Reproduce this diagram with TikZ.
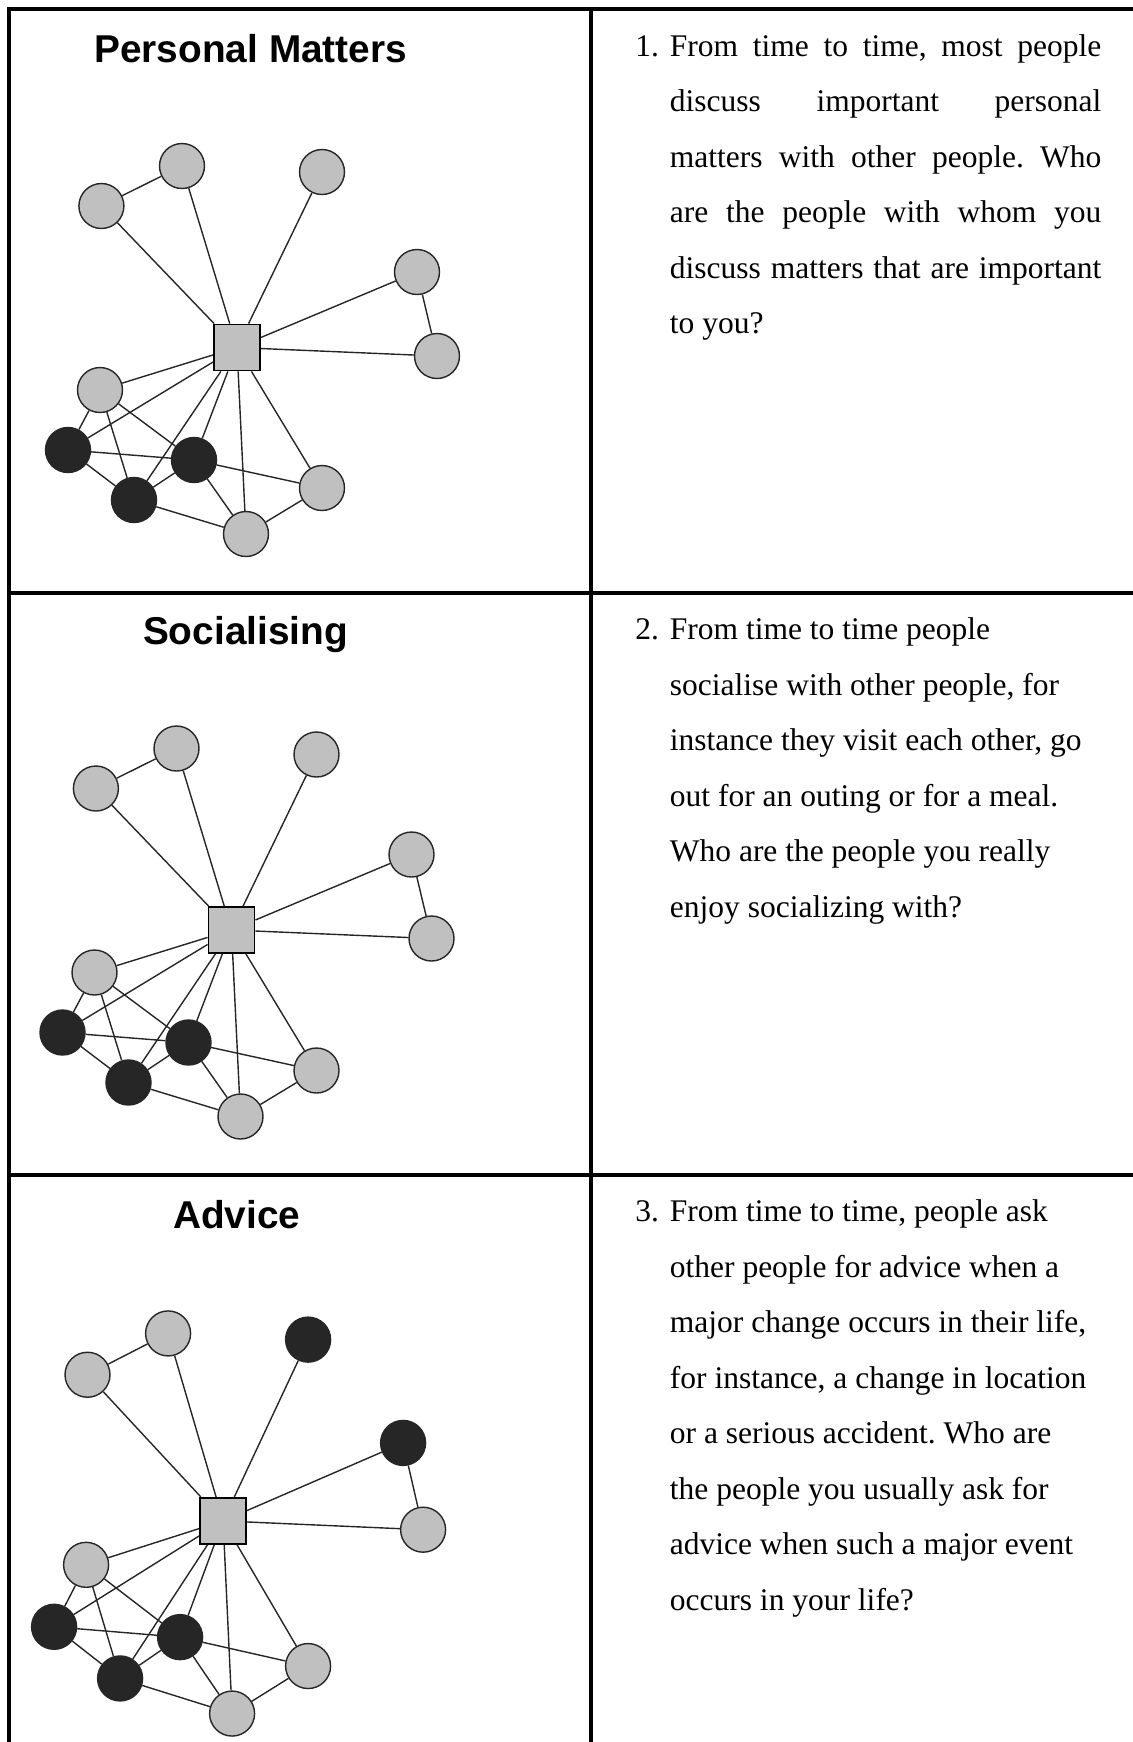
\documentclass[tikz,border=0pt]{standalone}
\usepackage{fontspec}
\setmainfont{Liberation Serif}
\newfontfamily\titlefont{Liberation Sans}
\frenchspacing
\definecolor{lightalter}{RGB}{192,192,192}
\definecolor{darkalter}{RGB}{38,38,38}
\tikzset{
  /tikz/.cd,
  alter/.style={circle,draw=black!85,line width=.7pt,fill=lightalter,minimum size=22.5pt,inner sep=0pt},
  kin/.style={alter,fill=darkalter},
  ego/.style={rectangle,draw=black,line width=.9pt,fill=lightalter,minimum size=23pt,inner sep=0pt},
  tie/.style={draw=black!85,line width=.7pt},
  title/.style={anchor=base,inner sep=0pt,font=\titlefont\bfseries\fontsize{19.4pt}{22pt}\selectfont}
}

% ego network, drawn around (0,0); #1 = name prefix, #2/#3 = styles of the two right-hand alters
\newcommand{\egonet}[3]{%
  \node[ego] (#1-ego) at (0,0) {};
  \node[alter] (#1-a) at (-135.6,-141.5) {};
  \node[alter] (#1-b) at (-55,-181.5) {};
  \node[#2] (#1-c) at (85,-175.5) {};
  \node[#3] (#1-d) at (180,-75.5) {};
  \node[alter] (#1-e) at (200,8.5) {};
  \node[alter] (#1-f) at (-137,42.5) {};
  \node[kin] (#1-g) at (-169,102.5) {};
  \node[kin] (#1-h) at (-43,112.5) {};
  \node[kin] (#1-i) at (-103,152.5) {};
  \node[alter] (#1-j) at (85,140.5) {};
  \node[alter] (#1-k) at (9,186.5) {};
  \foreach \u/\v in {a/b,a/ego,b/ego,c/ego,d/ego,d/e,e/ego,f/ego,g/ego,f/g,f/i,f/h,
                     g/h,g/i,i/ego,h/ego,h/i,h/j,h/k,i/k,k/ego,j/ego,k/j}
    \draw[tie] (#1-\u) -- (#1-\v);
}

\begin{document}
\begin{tikzpicture}[x=.5pt,y=-.5pt,
    frame/.style={line width=2pt},
    qline/.style={anchor=base west,inner sep=0pt,font=\fontsize{15.75pt}{18pt}\selectfont}]
  \useasboundingbox (0,0) rectangle (1132,1742);

  % table
  \draw[frame] (9,1760) -- (9,9) -- (1150,9);
  \draw[frame] (591,9) -- (591,1760);
  \draw[frame] (9,592.5) -- (1150,592.5);
  \draw[frame] (9,1174.5) -- (1150,1174.5);

  % networks
  \node[title] (pm-title) at (250.7,62) {Personal Matters};
  \begin{scope}[shift={(237,347.5)}]
    \egonet{pm}{alter}{alter}
  \end{scope}

  \node[title] (so-title) at (245.5,644.5) {Socialising};
  \begin{scope}[shift={(231.5,930)}]
    \egonet{so}{alter}{alter}
  \end{scope}

  \node[title] (ad-title) at (236.8,1228) {Advice};
  \begin{scope}[shift={(223.1,1520.9)},yscale=1.033]
    \egonet{ad}{kin}{kin}
  \end{scope}

  % questions
  \node[qline] (q1-num) at (635,56) {1.};
  \foreach \txt [count=\i from 0] in {{From time to time, most people},{discuss important personal},
      {matters with other people. Who},{are the people with whom you},{discuss matters that are important}}
    \node[qline] (q1-\i) at (669.5,56+55.5*\i) {\makebox[215.75pt][s]{\txt}};
  \node[qline] (q1-5) at (669.5,56+55.5*5) {to you?};

  \node[qline] (q2-num) at (635,639.5) {2.};
  \foreach \txt [count=\i from 0] in {{From time to time people},{socialise with other people, for},
      {instance they visit each other, go},{out for an outing or for a meal.},
      {Who are the people you really},{enjoy socializing with?}}
    \node[qline] (q2-\i) at (669.5,639.5+55.5*\i) {\txt};

  \node[qline] (q3-num) at (635,1221.5) {3.};
  \foreach \txt [count=\i from 0] in {{From time to time, people ask},{other people for advice when a},
      {major change occurs in their life,},{for instance, a change in location},
      {or a serious accident. Who are},{the people you usually ask for},
      {advice when such a major event},{occurs in your life?}}
    \node[qline] (q3-\i) at (669.5,1221.5+55.5*\i) {\txt};
\end{tikzpicture}
\end{document}
